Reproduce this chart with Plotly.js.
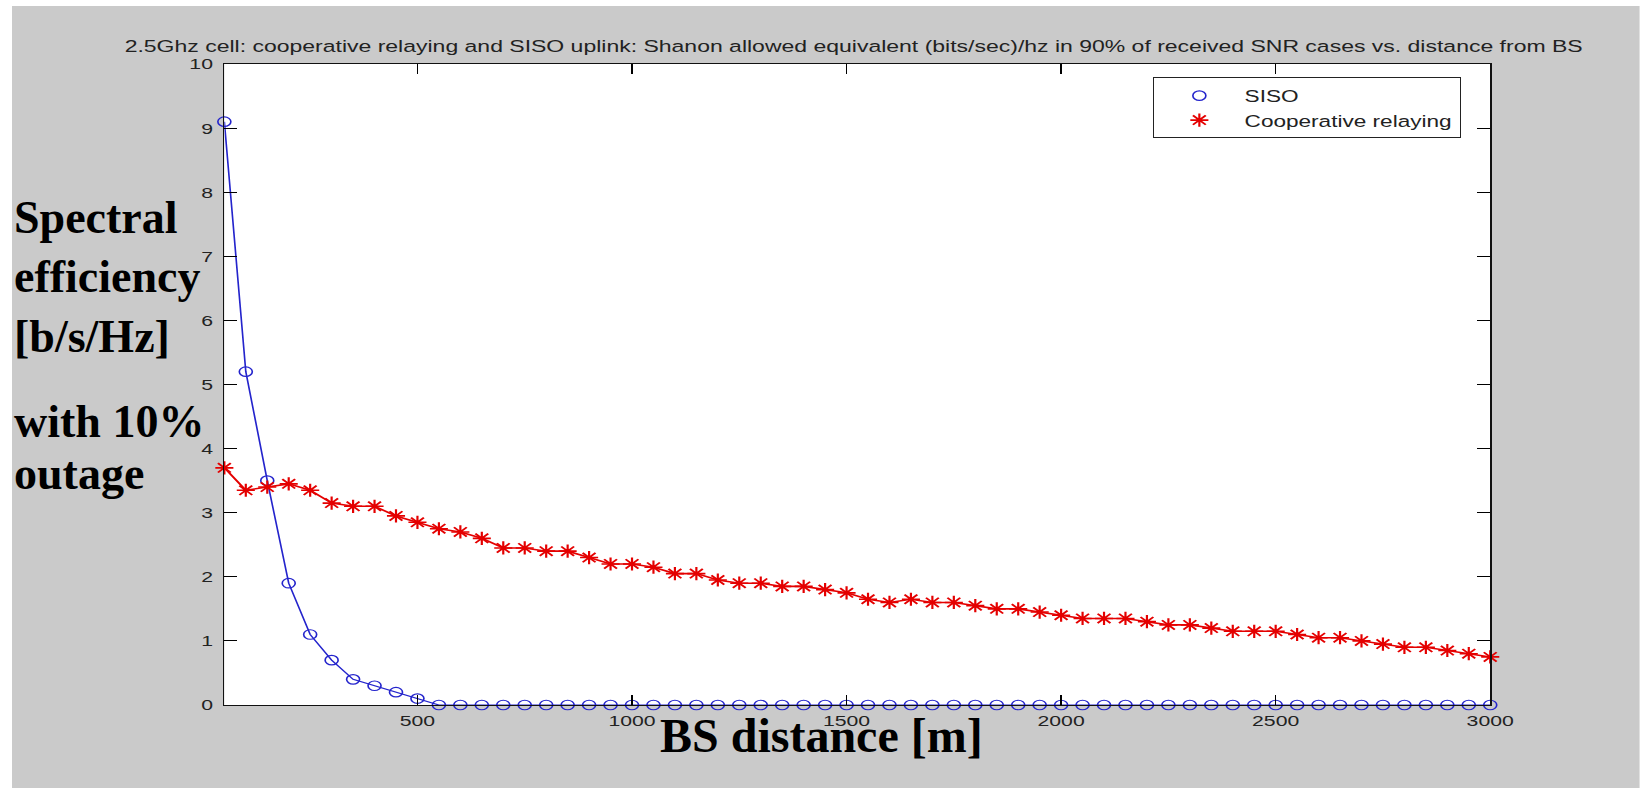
<!DOCTYPE html>
<html>
<head>
<meta charset="utf-8">
<script src="https://cdn.plot.ly/plotly-3.0.1.min.js"></script>
<style>
  html, body { margin: 0; padding: 0; width: 1640px; height: 788px; overflow: hidden; background: #ffffff; }
  #chart { position: absolute; transform-origin: 0 0; }
  #labels { position: absolute; left: 0; top: 0; width: 1640px; height: 788px; pointer-events: none; }
</style>
</head>
<body>
<div id="chart"></div>
<div id="labels"></div>
<script>
// ---- data ----
const distance = [50,100,150,200,250,300,350,400,450,500,
                  550,600,650,700,750,800,850,900,950,1000,
                  1050,1100,1150,1200,1250,1300,1350,1400,1450,1500,
                  1550,1600,1650,1700,1750,1800,1850,1900,1950,2000,
                  2050,2100,2150,2200,2250,2300,2350,2400,2450,2500,
                  2550,2600,2650,2700,2750,2800,2850,2900,2950,3000];
const sisoSE = [9.1,5.2,3.5,1.9,1.1,0.7,0.4,0.3,0.2,0.1,
                0,0,0,0,0,0,0,0,0,0,
                0,0,0,0,0,0,0,0,0,0,
                0,0,0,0,0,0,0,0,0,0,
                0,0,0,0,0,0,0,0,0,0,
                0,0,0,0,0,0,0,0,0,0];
const coopSE = [3.7,3.35,3.4,3.45,3.35,3.15,3.1,3.1,2.95,2.85,
                2.75,2.7,2.6,2.45,2.45,2.4,2.4,2.3,2.2,2.2,
                2.15,2.05,2.05,1.95,1.9,1.9,1.85,1.85,1.8,1.75,
                1.65,1.6,1.65,1.6,1.6,1.55,1.5,1.5,1.45,1.4,
                1.35,1.35,1.35,1.3,1.25,1.25,1.2,1.15,1.15,1.15,
                1.1,1.05,1.05,1.0,0.95,0.9,0.9,0.85,0.8,0.75];
const xTickVals = [500,1000,1500,2000,2500,3000];
const yTickVals = [0,1,2,3,4,5,6,7,8,9,10];
const seriesNames = ["SISO", "Cooperative relaying"];
const titleText = "2.5Ghz cell: cooperative relaying and SISO uplink: Shanon allowed equivalent (bits/sec)/hz in 90% of received SNR cases vs. distance from BS";
const yLabelLines1 = ["Spectral", "efficiency", "[b/s/Hz]"];
const yLabelLines2 = ["with 10%", "outage"];
const xLabelText = "BS distance [m]";

// ---- geometry (full-page pixels) ----
const W = 1640, H = 788;
const S = 1.37;          // horizontal stretch of the original figure
const OX = 12, OY = 6;   // white strip at left/top
const WA = (W - OX) / S, HA = H - OY;
const plotL = 224.3, plotR = 1490, plotT = 64.3, plotB = 705.3;

const chartDiv = document.getElementById('chart');
chartDiv.style.left = OX + 'px';
chartDiv.style.top = OY + 'px';
chartDiv.style.width = WA + 'px';
chartDiv.style.height = HA + 'px';
chartDiv.style.transform = 'scaleX(' + S + ')';

const mFont = "Liberation Sans, Arial, Helvetica, sans-serif";
const blue = "#2424cc", red = "#e40000";

const traces = [
  { x: distance, y: sisoSE, type: 'scatter', mode: 'lines', showlegend: false,
    line: { color: blue, width: 1.2 }, cliponaxis: false },
  { x: distance, y: sisoSE, type: 'scatter', mode: 'markers', name: seriesNames[0],
    marker: { symbol: 'circle-open', size: 9.5, color: blue, line: { color: blue, width: 1.2 } },
    cliponaxis: false },
  { x: distance, y: coopSE, type: 'scatter', mode: 'lines', showlegend: false,
    line: { color: red, width: 1.6 }, cliponaxis: false },
  { x: distance, y: coopSE, type: 'scatter', mode: 'markers', name: seriesNames[1],
    marker: { symbol: 'asterisk-open', size: 11, color: red, line: { color: red, width: 1.6 } },
    cliponaxis: false }
];

const layout = {
  width: WA, height: HA,
  paper_bgcolor: '#cacaca',
  plot_bgcolor: '#ffffff',
  margin: { l: (plotL - OX) / S, r: (W - plotR) / S, t: plotT - OY, b: H - plotB, pad: 0 },
  font: { family: mFont, size: 15, color: '#222222' },
  title: {
    text: titleText,
    font: { family: mFont, size: 16.8, color: '#222222' },
    xref: 'paper', x: (853.5 - plotL) / (plotR - plotL), xanchor: 'center',
    yref: 'container', y: 1 - (45.8 - OY) / HA, yanchor: 'middle'
  },
  xaxis: {
    range: [50, 3000], tickvals: xTickVals, ticktext: xTickVals.map(String),
    ticks: 'inside', ticklen: 10, tickwidth: 1, tickcolor: '#000',
    showline: true, linecolor: '#111', linewidth: 1.4, mirror: 'allticks',
    showgrid: false, zeroline: false, ticklabelstandoff: 1,
    tickfont: { family: mFont, size: 15.5, color: '#222222' }
  },
  yaxis: {
    range: [0, 10], tickvals: yTickVals, ticktext: yTickVals.map(String),
    ticks: 'inside', ticklen: 9.5, tickwidth: 1, tickcolor: '#000',
    showline: true, linecolor: '#111', linewidth: 1.2, mirror: 'allticks',
    showgrid: false, zeroline: false, ticklabelstandoff: 4,
    tickfont: { family: mFont, size: 15.5, color: '#222222' }
  },
  showlegend: true,
  legend: {
    x: (1152.6 - plotL) / (plotR - plotL), xanchor: 'left',
    y: (plotB - 77.7) / (plotB - plotT), yanchor: 'top',
    bgcolor: '#ffffff', bordercolor: '#222222', borderwidth: 1,
    font: { family: mFont, size: 16.5, color: '#222222' },
    itemwidth: 56
  }
};

Plotly.newPlot(chartDiv, traces, layout, { staticPlot: true, displayModeBar: false });

// ---- overlaid bold serif labels (not stretched) ----
const sFont = "Liberation Serif, Times New Roman, serif";
function lab(text, xPx, yCenterPx, size) {
  return { text: '<b>' + text + '</b>', xref: 'paper', yref: 'paper',
           x: xPx / W, y: 1 - yCenterPx / H, xanchor: 'left', yanchor: 'middle',
           showarrow: false, font: { family: sFont, size: size, color: '#000000' } };
}
const fs = 46;
const annotations = [
  lab(yLabelLines1[0], 12, 233.3 - 0.34 * fs, fs),
  lab(yLabelLines1[1], 12, 292.5 - 0.34 * fs, fs),
  lab(yLabelLines1[2], 12, 351.7 - 0.34 * fs, fs),
  lab(yLabelLines2[0], 12, 437.3 - 0.34 * fs, fs),
  lab(yLabelLines2[1], 12, 489.0 - 0.34 * fs, fs),
  lab(xLabelText, 658, 751.7 - 0.34 * 48, 48)
];
Plotly.newPlot('labels', [], {
  width: W, height: H,
  paper_bgcolor: 'rgba(0,0,0,0)', plot_bgcolor: 'rgba(0,0,0,0)',
  margin: { l: 0, r: 0, t: 0, b: 0 },
  xaxis: { visible: false }, yaxis: { visible: false },
  showlegend: false, annotations: annotations
}, { staticPlot: true, displayModeBar: false });
</script>
</body>
</html>
